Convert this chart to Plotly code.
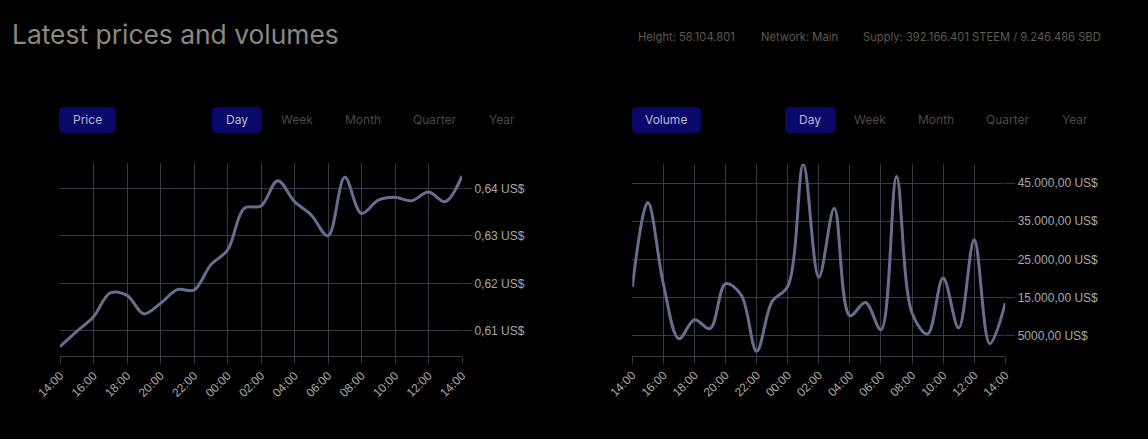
import plotly.graph_objects as go

W, H = 1148, 439

# ---- data ----
times = [
    "2021-11-20 14:00", "2021-11-20 15:00", "2021-11-20 16:00", "2021-11-20 17:00",
    "2021-11-20 18:00", "2021-11-20 19:00", "2021-11-20 20:00", "2021-11-20 21:00",
    "2021-11-20 22:00", "2021-11-20 23:00", "2021-11-21 00:00", "2021-11-21 01:00",
    "2021-11-21 02:00", "2021-11-21 03:00", "2021-11-21 04:00", "2021-11-21 05:00",
    "2021-11-21 06:00", "2021-11-21 07:00", "2021-11-21 08:00", "2021-11-21 09:00",
    "2021-11-21 10:00", "2021-11-21 11:00", "2021-11-21 12:00", "2021-11-21 13:00",
    "2021-11-21 14:00",
]
price = [0.6067, 0.6099, 0.6130, 0.6180, 0.6175, 0.6136, 0.6158, 0.6187, 0.6186,
         0.6239, 0.6270, 0.6358, 0.6363, 0.6416, 0.6372, 0.6344, 0.6300, 0.6423,
         0.6347, 0.6375, 0.6381, 0.6374, 0.6392, 0.6372, 0.6426]
volume = [17690, 39920, 18500, 4124, 9113, 6750, 18565, 15677, 799, 13927, 17866,
          49990, 20229, 38435, 10163, 13664, 6487, 46750, 10863, 5350, 20054, 6925,
          30120, 2810, 13489]

price_ticks = [0.61, 0.62, 0.63, 0.64]
price_labels = ["0,61 US$", "0,62 US$", "0,63 US$", "0,64 US$"]
vol_ticks = [5000, 15000, 25000, 35000, 45000]
vol_labels = ["5000,00 US$", "15.000,00 US$", "25.000,00 US$", "35.000,00 US$", "45.000,00 US$"]

title_text = "Latest prices and volumes"
header_items = ["Height: 58.104.801", "Network: Main", "Supply: 392.166.401 STEEM / 9.246.486 SBD"]
period_labels = ["Day", "Week", "Month", "Quarter", "Year"]

# ---- styling ----
LINE = "#676d8e"
GRID = "#393943"
TICKFONT = dict(family="Liberation Sans, Arial, sans-serif", size=12, color="#a8a8a8")
UI_FONT = "Inter, Noto Sans, sans-serif"


def px(x):
    return x / W


def py(y):
    return 1 - y / H


fig = go.Figure()
fig.add_trace(go.Scatter(x=times, y=price, mode="lines",
                         line=dict(color=LINE, width=3, shape="spline", smoothing=1.0),
                         xaxis="x", yaxis="y", hoverinfo="skip", showlegend=False))
fig.add_trace(go.Scatter(x=times, y=volume, mode="lines",
                         line=dict(color=LINE, width=3, shape="spline", smoothing=1.0),
                         xaxis="x2", yaxis="y2", hoverinfo="skip", showlegend=False))

xcommon = dict(type="date", tickformat="%H:%M", dtick=2 * 3600 * 1000,
               tick0=times[0], tickangle=-45, showgrid=True, gridcolor=GRID, gridwidth=1,
               ticks="outside", ticklen=7, tickcolor=GRID, showline=True, linecolor=GRID,
               linewidth=1, zeroline=False, tickfont=TICKFONT, automargin=False,
               range=[times[0], times[-1]])
ycommon = dict(side="right", showgrid=True, gridcolor=GRID, gridwidth=1, ticks="outside",
               ticklen=9, tickcolor=GRID, showline=False, zeroline=False, tickfont=TICKFONT,
               tickmode="array", automargin=False)

fig.update_layout(
    width=W, height=H, autosize=False,
    paper_bgcolor="#000000", plot_bgcolor="#000000",
    margin=dict(l=0, r=0, t=0, b=0, pad=0),
    xaxis=dict(domain=[px(60), px(462)], anchor="y", **xcommon),
    yaxis=dict(domain=[py(356), py(163)], anchor="x", range=[0.60474, 0.64532],
               tickvals=price_ticks, ticktext=price_labels, **ycommon),
    xaxis2=dict(domain=[px(632.3), px(1005.3)], anchor="y2", **xcommon),
    yaxis2=dict(domain=[py(355.5), py(164)], anchor="x2", range=[-300, 50070],
                tickvals=vol_ticks, ticktext=vol_labels, **ycommon),
)

shapes = []
annotations = []


def rounded_rect(x0, y0, x1, y1, r, color):
    segs = [("M", [(x0 + r, y0)]), ("L", [(x1 - r, y0)]), ("Q", [(x1, y0), (x1, y0 + r)]),
            ("L", [(x1, y1 - r)]), ("Q", [(x1, y1), (x1 - r, y1)]), ("L", [(x0 + r, y1)]),
            ("Q", [(x0, y1), (x0, y1 - r)]), ("L", [(x0, y0 + r)]),
            ("Q", [(x0, y0), (x0 + r, y0)])]
    parts = []
    for cmd, pts in segs:
        parts.append(cmd + " " + " ".join(f"{px(a):.6f},{py(b):.6f}" for a, b in pts))
    path = " ".join(parts) + " Z"
    return dict(type="path", xref="paper", yref="paper", path=path,
                fillcolor=color, line=dict(width=0), layer="below")


BTN = "#09096a"
BTN_TEXT = "#b9b9cf"
INACTIVE = "#4d4a3f"

shapes.append(rounded_rect(59, 107, 116, 133, 5, BTN))
shapes.append(rounded_rect(212, 107, 262, 133, 5, BTN))
shapes.append(rounded_rect(632, 107, 701, 133, 5, BTN))
shapes.append(rounded_rect(785, 107, 836, 133, 5, BTN))


def txt(x, y, s, size, color, anchor="center", family=UI_FONT):
    annotations.append(dict(x=px(x), y=py(y), xref="paper", yref="paper", text=s,
                            showarrow=False, xanchor=anchor, yanchor="middle",
                            font=dict(family=family, size=size, color=color)))


txt(87.5, 120, "Price", 12, BTN_TEXT)
txt(666, 120, "Volume", 12, BTN_TEXT)
left_centers = [237, 296.5, 363, 435, 502]
right_centers = [810.5, 870, 935.6, 1008, 1075]
for i, lab in enumerate(period_labels):
    c = BTN_TEXT if i == 0 else INACTIVE
    txt(left_centers[i], 120, lab, 12, c)
    txt(right_centers[i], 120, lab, 12, c)

txt(10, 34, title_text, 26.4, "#8b8880", anchor="left")
header_x = [636, 759, 861]
for hx, s in zip(header_x, header_items):
    txt(hx, 37, s, 11.2, "#5e5a4e", anchor="left")

fig.update_layout(shapes=shapes, annotations=annotations)
fig.write_html("out.html", config={"displayModeBar": False},
               post_script="document.body.style.margin='0';document.body.style.background='#000';")
